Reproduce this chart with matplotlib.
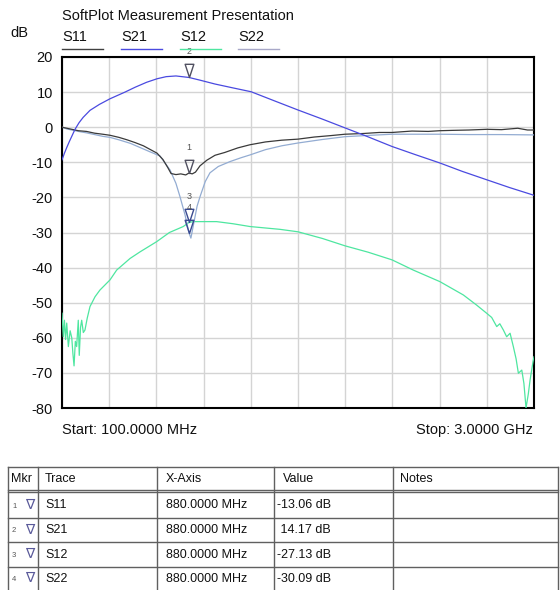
import matplotlib
matplotlib.use("Agg")
import matplotlib.pyplot as plt
from matplotlib.path import Path
from matplotlib.lines import Line2D

plt.rcParams['font.family'] = ['Liberation Sans', 'DejaVu Sans']

# ---------------- data ----------------
s21_f = [100, 115, 130, 145, 160, 180, 205, 230, 272, 330, 395, 487, 550, 620, 684, 740, 800, 880,
         948, 1040, 1150, 1262, 1400, 1550, 1700, 1839, 1962, 2128, 2270, 2422, 2560, 2711, 2850, 3000]
s21_db = [-9.3, -7.4, -5.7, -4.1, -2.6, -0.6, 1.3, 2.8, 4.8, 6.5, 8.1, 10.0, 11.4, 12.8, 13.8, 14.4,
          14.6, 14.17, 13.4, 12.3, 11.2, 10.1, 7.6, 4.9, 2.3, -0.2, -2.4, -5.5, -7.8, -10.2, -12.6,
          -15.0, -17.2, -19.4]

s11_f = [100, 130, 160, 200, 250, 300, 350, 395, 450, 500, 550, 600, 640, 684, 720, 750, 770, 800,
         830, 860, 880, 900, 920, 948, 990, 1040, 1100, 1180, 1255, 1350, 1450, 1550, 1650, 1750,
         1839, 1950, 2050, 2128, 2250, 2350, 2422, 2500, 2600, 2711, 2800, 2900, 2960, 3000]
s11_db = [0.0, -0.3, -0.6, -1.0, -1.2, -1.7, -2.0, -2.3, -2.9, -3.6, -4.4, -5.3, -6.3, -7.4, -9.2, -11.5,
          -13.2, -13.5, -13.3, -13.6, -13.06, -13.3, -12.8, -11.0, -9.4, -8.0, -7.2, -5.9, -5.0, -4.2,
          -3.7, -3.4, -2.8, -2.4, -2.0, -1.8, -1.5, -1.5, -1.1, -1.2, -1.0, -0.9, -0.8, -0.6, -0.7,
          -0.3, -0.8, -0.8]

s22_f = [100, 130, 160, 200, 250, 300, 350, 395, 450, 520, 580, 640, 702, 764, 800, 825, 856, 880,
         892, 911, 930, 948, 980, 1009, 1060, 1132, 1200, 1255, 1350, 1450, 1550, 1700, 1839, 2000,
         2128, 2300, 2422, 2600, 2800, 3000]
s22_db = [0.0, -0.5, -0.8, -1.2, -1.6, -2.1, -2.6, -2.9, -3.6, -4.6, -5.8, -7.0, -8.2, -12.2, -16.0,
          -19.8, -25.0, -30.09, -31.6, -27.0, -22.5, -19.8, -15.5, -13.0, -11.2, -9.8, -8.7, -7.9,
          -6.4, -5.3, -4.5, -3.5, -2.7, -2.3, -2.0, -2.0, -2.0, -2.1, -2.1, -2.2]

s12_f = [100, 108, 115, 122, 129, 139, 150, 160, 167, 174, 182, 190, 200, 206, 214, 221, 231, 241,
         255, 272, 303, 333, 395, 436, 518, 580, 682, 760, 845, 880, 907, 1050, 1150, 1255, 1439,
         1550, 1700, 1839, 1980, 2128, 2258, 2422, 2566, 2648, 2709, 2740, 2771, 2790, 2812, 2832,
         2853, 2873, 2890, 2904, 2925, 2938, 2951, 2965, 2976, 2994, 3000]
s12_db = [-53.0, -59.7, -55.0, -60.5, -55.8, -62.5, -58.0, -60.0, -64.5, -68.0, -61.0, -62.5, -55.0,
          -65.0, -57.0, -55.0, -58.5, -57.8, -54.4, -51.1, -48.3, -46.4, -43.5, -40.7, -37.4, -35.5,
          -32.6, -30.0, -28.3, -27.13, -26.9, -26.9, -27.5, -28.3, -29.1, -29.8, -31.7, -33.8, -35.6,
          -37.8, -40.7, -44.0, -47.8, -50.7, -53.0, -54.2, -56.8, -56.0, -57.8, -59.7, -58.7, -62.5,
          -66.0, -70.1, -69.2, -73.0, -80.0, -76.0, -72.0, -66.8, -65.4]

trace_names = ["S11", "S21", "S12", "S22"]
trace_colors = ["#3a3a3a", "#4a4ae0", "#4ee6a0", "#93acd2"]
legend_colors = ["#404040", "#4a4ae0", "#4ee6a0", "#a8a8c8"]

marker_freq = 880.0
marker_vals = [-13.06, 14.17, -27.13, -30.09]
marker_x_text = ["880.0000 MHz"] * 4
marker_val_text = ["-13.06 dB", " 14.17 dB", "-27.13 dB", "-30.09 dB"]
table_headers = ["Mkr", "Trace", "X-Axis", "Value", "Notes"]

f_start, f_stop = 100.0, 3000.0
yticks = [20, 10, 0, -10, -20, -30, -40, -50, -60, -70, -80]

# ---------------- figure ----------------
W, H = 560, 590
fig = plt.figure(figsize=(W / 100, H / 100), dpi=100)
fig.patch.set_facecolor("white")

def fx(px):
    return px / W

def fy(py):
    return 1 - py / H

ax_l, ax_r, ax_t, ax_b = 62, 534, 57, 408
ax = fig.add_axes([fx(ax_l), fy(ax_b), (ax_r - ax_l) / W, (ax_b - ax_t) / H])
ax.set_xlim(f_start, f_stop)
ax.set_ylim(-80, 20)
ax.set_xticks([f_start + i * (f_stop - f_start) / 10 for i in range(11)])
ax.set_yticks(yticks)
ax.set_xticklabels([])
ax.set_yticklabels([str(v) for v in yticks], fontsize=10.5, color="#111111")
ax.tick_params(axis="both", length=0, pad=6.5)
ax.grid(True, color="#d4d4d4", linewidth=1.0)
ax.set_axisbelow(True)
for sp in ax.spines.values():
    sp.set_color("black")
    sp.set_linewidth(1.5)

series = [(s11_f, s11_db), (s21_f, s21_db), (s12_f, s12_db), (s22_f, s22_db)]
for i in [2, 3, 0, 1]:
    f, d = series[i]
    ax.plot(f, d, color=trace_colors[i], linewidth=0.9, clip_on=True, zorder=3)

# markers: open triangle with tip at the data point
tri = Path([(-0.33, 1.0), (0.33, 1.0), (0.0, 0.0), (-0.33, 1.0)],
           [Path.MOVETO, Path.LINETO, Path.LINETO, Path.CLOSEPOLY])
marker_edge = ["#505060", "#505060", "#3a4a90", "#3a4a90"]
for k, v in enumerate(marker_vals):
    ax.plot([marker_freq], [v], marker=tri, markersize=19, markerfacecolor="none",
            markeredgecolor=marker_edge[k], markeredgewidth=1.0, linestyle="none",
            zorder=5, clip_on=False)
    ax.annotate(str(k + 1), (marker_freq, v), xytext=(0, 18.5), textcoords="offset points",
                ha="center", va="center", fontsize=6.5, color="#555555", zorder=6,
                annotation_clip=False)

# title, unit and legend
fig.text(fx(62), fy(16), "SoftPlot Measurement Presentation", fontsize=10.5,
         ha="left", va="center", color="#111111")
fig.text(fx(10), fy(33), "dB", fontsize=10.5, ha="left", va="center", color="#111111")
leg_x = [62, 121, 180, 238]
for i, name in enumerate(trace_names):
    fig.text(fx(leg_x[i]), fy(37), name, fontsize=10.5, ha="left", va="center", color="#111111")
    fig.add_artist(Line2D([fx(leg_x[i]), fx(leg_x[i] + 41)], [fy(49), fy(49)],
                          transform=fig.transFigure, color=legend_colors[i], linewidth=1.0))

fig.text(fx(62), fy(430), "Start: 100.0000 MHz", fontsize=10.5, ha="left", va="center",
         color="#111111")
fig.text(fx(533), fy(430), "Stop: 3.0000 GHz", fontsize=10.5, ha="right", va="center",
         color="#111111")

# ---------------- marker table ----------------
col_x = [8, 38, 157, 274, 393, 558]
row_y = [467, 492, 518, 542, 567, 590]
line_kw = dict(transform=fig.transFigure, color="#606060", linewidth=1.0)
for cx in col_x:
    fig.add_artist(Line2D([fx(cx), fx(cx)], [fy(row_y[0]), fy(row_y[-1])], **line_kw))
for ry in row_y[:-1]:
    fig.add_artist(Line2D([fx(col_x[0]), fx(col_x[-1])], [fy(ry), fy(ry)], **line_kw))
fig.add_artist(Line2D([fx(col_x[0]), fx(col_x[-1])], [fy(row_y[1] - 2.5), fy(row_y[1] - 2.5)],
                      **line_kw))

head_x = [11, 45, 166, 283, 400]
for j, h in enumerate(table_headers):
    fig.text(fx(head_x[j]), fy(479.5), h, fontsize=9, ha="left", va="center", color="#111111")

for r in range(4):
    yc = (row_y[r + 1] + row_y[r + 2]) / 2
    fig.text(fx(12), fy(yc + 1), str(r + 1), fontsize=5.5, ha="left", va="center", color="#555555")
    fig.text(fx(25), fy(yc), "\u2207", fontsize=10, ha="left", va="center", color="#5a5a9a",
             family=["DejaVu Sans"])
    fig.text(fx(45), fy(yc), trace_names[r], fontsize=9, ha="left", va="center", color="#111111")
    fig.text(fx(166), fy(yc), marker_x_text[r], fontsize=9, ha="left", va="center", color="#111111")
    fig.text(fx(277), fy(yc), marker_val_text[r], fontsize=9, ha="left", va="center", color="#111111")

fig.savefig("out.png", dpi=100, facecolor="white")
